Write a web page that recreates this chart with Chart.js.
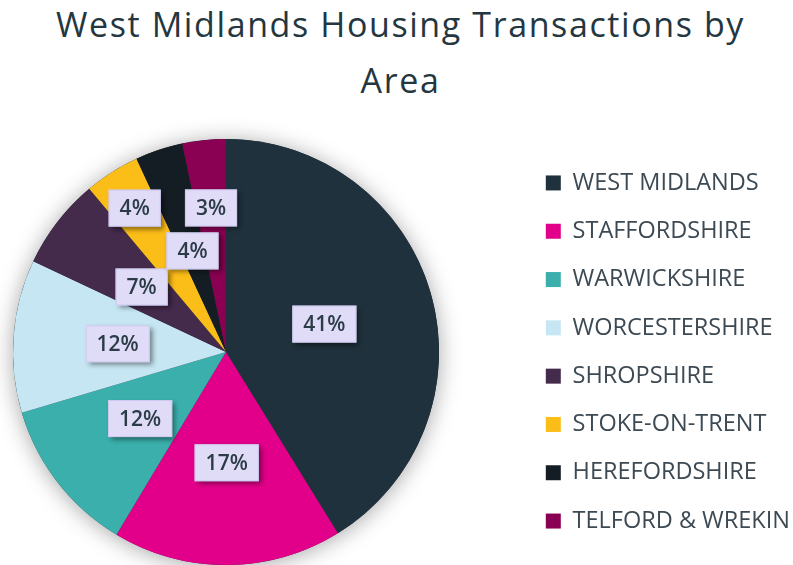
<!DOCTYPE html>
<html>
<head>
<meta charset="utf-8">
<script src="https://cdn.jsdelivr.net/npm/chart.js@4.4.0/dist/chart.umd.min.js"></script>
<style>
    html, body { margin: 0; padding: 0; background: #fff; }
    #wrap { position: relative; width: 793px; height: 565px; overflow: hidden; }
    #title {
        position: absolute; left: 4px; top: -4px; width: 793px;
        text-align: center; font-family: "Open Sans", sans-serif;
        font-size: 34px; line-height: 56px; color: #243640;
        letter-spacing: 1.6px;
    }
    /* canvas is wider than the page and shifted left so the pie sits left of centre */
    canvas { position: absolute; left: -69px; top: 0; }
</style>
</head>
<body>
<div id="wrap">
    <div id="title">West Midlands Housing Transactions by<br>Area</div>
    <canvas id="pieChart" width="863" height="565"></canvas>
</div>
<script>
const areas = ['WEST MIDLANDS', 'STAFFORDSHIRE', 'WARWICKSHIRE', 'WORCESTERSHIRE',
    'SHROPSHIRE', 'STOKE-ON-TRENT', 'HEREFORDSHIRE', 'TELFORD & WREKIN'];
const shares = [41.2, 17.4, 11.8, 11.6, 6.9, 4.2, 3.6, 3.3];
const colors = ['#1f313c', '#e2008a', '#3aafac', '#c5e6f2', '#442a4b', '#fbbd17', '#131d23', '#8a0052'];

// how far out each label box sits (fraction of radius)
const labelRadius = [0.48, 0.52, 0.51, 0.51, 0.5, 0.8, 0.5, 0.68];

const pieShadow = {
    id: 'pieShadow',
    beforeDatasetsDraw(chart) {
        const arc = chart.getDatasetMeta(0).data[0];
        if (!arc) return;
        const ctx = chart.ctx;
        ctx.save();
        ctx.shadowColor = 'rgba(0,0,0,0.35)';
        ctx.shadowBlur = 22;
        ctx.shadowOffsetX = 0;
        ctx.shadowOffsetY = 2;
        ctx.fillStyle = colors[0];
        ctx.beginPath();
        ctx.arc(arc.x, arc.y, arc.outerRadius, 0, Math.PI * 2);
        ctx.fill();
        ctx.restore();
    }
};

const pctLabels = {
    id: 'pctLabels',
    afterDatasetsDraw(chart) {
        const ctx = chart.ctx;
        const total = shares.reduce((s, v) => s + v, 0);
        ctx.save();
        ctx.font = '600 21px "Open Sans"';
        ctx.textAlign = 'center';
        ctx.textBaseline = 'middle';
        chart.getDatasetMeta(0).data.forEach((arc, i) => {
            const p = arc.getProps(['x', 'y', 'startAngle', 'endAngle', 'outerRadius']);
            const mid = (p.startAngle + p.endAngle) / 2;
            const r = p.outerRadius * labelRadius[i];
            const cx = p.x + Math.cos(mid) * r;
            const cy = p.y + Math.sin(mid) * r;
            const text = Math.round(shares[i] / total * 100) + '%';
            const w = ctx.measureText(text).width + 22;
            const h = 37;
            ctx.save();
            ctx.shadowColor = 'rgba(0,0,0,0.45)';
            ctx.shadowBlur = 5;
            ctx.shadowOffsetX = 3;
            ctx.shadowOffsetY = 3;
            ctx.fillStyle = '#e0dcf8';
            ctx.fillRect(cx - w / 2, cy - h / 2, w, h);
            ctx.restore();
            ctx.strokeStyle = '#ccc8ee';
            ctx.lineWidth = 1;
            ctx.strokeRect(cx - w / 2 + 0.5, cy - h / 2 + 0.5, w - 1, h - 1);
            ctx.fillStyle = '#2b3c47';
            ctx.fillText(text, cx, cy + 1);
        });
        ctx.restore();
    }
};

new Chart(document.getElementById('pieChart'), {
    type: 'pie',
    data: {
        labels: areas,
        datasets: [{
            data: shares,
            backgroundColor: colors,
            borderWidth: 0,
            hoverOffset: 0,
            offset: 0
        }]
    },
    options: {
        responsive: false,
        animation: false,
        layout: { padding: { top: 139, left: 0, right: 0, bottom: 0 } },
        plugins: {
            tooltip: { enabled: false },
            legend: {
                position: 'right',
                maxWidth: 273,
                labels: {
                    boxWidth: 15,
                    boxHeight: 15,
                    padding: 24.8,
                    color: '#3d4a54',
                    font: { family: '"Open Sans"', size: 23.5 }
                }
            }
        }
    },
    plugins: [pieShadow, pctLabels]
});
</script>
</body>
</html>
